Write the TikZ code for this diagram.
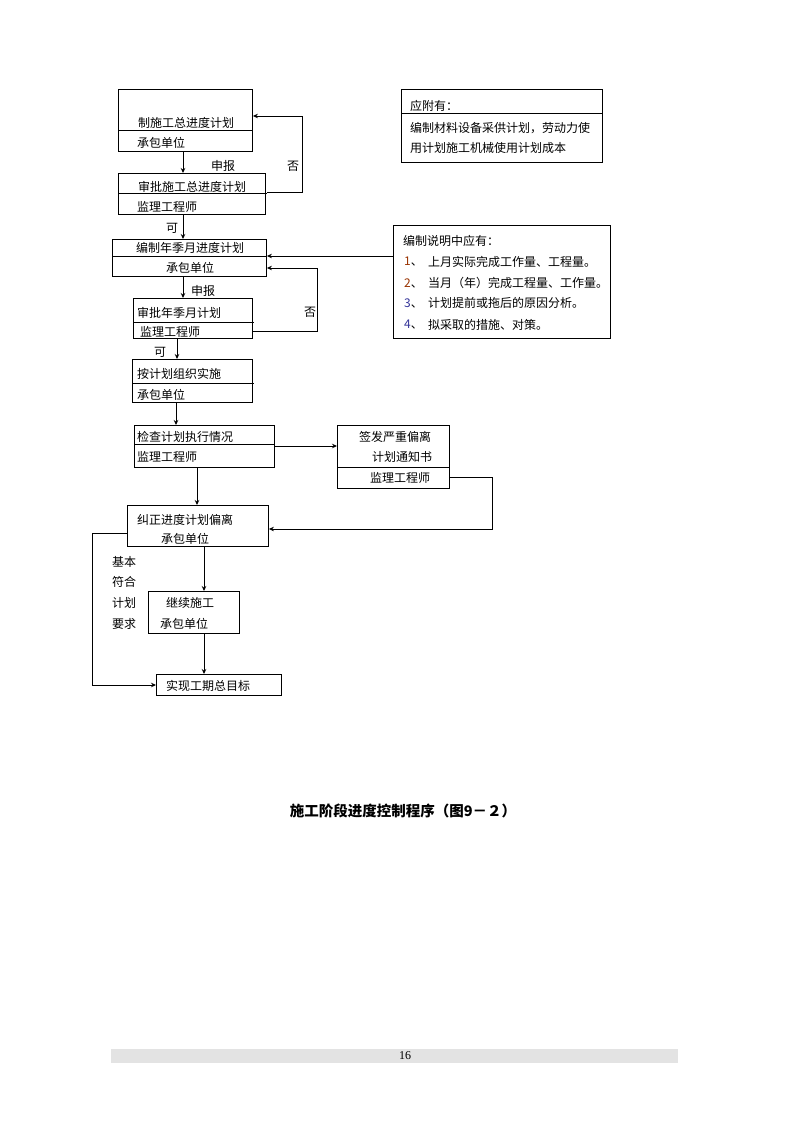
\documentclass[tikz,border=0pt]{standalone}
\usepackage{fontspec}
\setmainfont{Noto Sans CJK SC}
\newfontfamily\serifnum{Liberation Serif}
\usetikzlibrary{arrows.meta,calc}
\definecolor{numA}{HTML}{993300}
\definecolor{numB}{HTML}{333399}
\definecolor{barGray}{HTML}{E3E3E3}
\tikzset{
  box/.style={draw, line width=0.9pt, rectangle, inner sep=0pt, anchor=north west},
  divline/.style={line width=0.9pt},
  conn/.style={line width=0.9pt},
  arr/.style={line width=0.9pt, -{Stealth[length=5pt,width=4.5pt]}},
  txt/.style={inner sep=0pt, font=\fontsize{12}{14}\selectfont},
  lbl/.style={inner sep=0pt, font=\fontsize{12}{14}\selectfont},
  ttl/.style={inner sep=0pt, font=\fontsize{14.5}{17}\selectfont\bfseries},
}
\begin{document}
\begin{tikzpicture}[x=1pt,y=-1pt]
\useasboundingbox (0,0) rectangle (794,1123);
\fill[white] (0,0) rectangle (794,1123);

% ---------- boxes ----------
\node[box, minimum width=134pt, minimum height=62pt] (b1) at (118,89) {};
\node[box, minimum width=147pt, minimum height=41pt] (b2) at (118,173) {};
\node[box, minimum width=154pt, minimum height=37pt] (b3) at (112,239) {};
\node[box, minimum width=119pt, minimum height=40pt] (b4) at (133,298) {};
\node[box, minimum width=120pt, minimum height=43pt] (b5) at (132,359) {};
\node[box, minimum width=140pt, minimum height=42pt] (b6) at (134,425) {};
\node[box, minimum width=112pt, minimum height=63pt] (b7) at (337,425) {};
\node[box, minimum width=141pt, minimum height=41pt] (b8) at (127,505) {};
\node[box, minimum width=91pt, minimum height=42pt] (b9) at (148,591) {};
\node[box, minimum width=125pt, minimum height=21pt] (b10) at (156,674) {};
\node[box, minimum width=201pt, minimum height=73pt] (nA) at (401,89) {};
\node[box, minimum width=217pt, minimum height=113pt] (nB) at (393,225) {};

% ---------- dividers ----------
\coordinate (d1) at (253,130);
\coordinate (d2) at (267,193);
\coordinate (d3) at (266,256);
\coordinate (d4) at (254,322);
\coordinate (d5) at (254,383);
\coordinate (d6) at (274,444);
\coordinate (d7) at (449,467);
\coordinate (dA) at (602,113);
\draw[divline] (b1.west |- d1) -- (d1);
\draw[divline] (b2.west |- d2) -- (d2);
\draw[divline] (b3.west |- d3) -- (d3);
\draw[divline] (b4.west |- d4) -- (d4);
\draw[divline] (b5.west |- d5) -- (d5);
\draw[divline] (b6.west |- d6) -- (d6);
\draw[divline] (b7.west |- d7) -- (d7);
\draw[divline] (nA.west |- dA) -- (dA);

% ---------- box texts ----------
\node[txt] (t1a) at (186,123) {制施工总进度计划};
\node[txt, anchor=west] (t1b) at (137,143) {承包单位};
\node[txt, anchor=west] (t2a) at (138,187) {审批施工总进度计划};
\node[txt, anchor=west] (t2b) at (137,207) {监理工程师};
\node[txt] (t3a) at (190,248) {编制年季月进度计划};
\node[txt] (t3b) at (190,268) {承包单位};
\node[txt, anchor=west] (t4a) at (137,313) {审批年季月计划};
\node[txt, anchor=west] (t4b) at (140,332) {监理工程师};
\node[txt, anchor=west] (t5a) at (137,374) {按计划组织实施};
\node[txt, anchor=west] (t5b) at (137,395) {承包单位};
\node[txt, anchor=west] (t6a) at (137,437) {检查计划执行情况};
\node[txt, anchor=west] (t6b) at (137,457) {监理工程师};
\node[txt] (t7a) at (395,437) {签发严重偏离};
\node[txt] (t7b) at (402,457) {计划通知书};
\node[txt] (t7c) at (400,478) {监理工程师};
\node[txt] (t8a) at (185,520) {纠正进度计划偏离};
\node[txt] (t8b) at (185,539) {承包单位};
\node[txt] (t9a) at (190,603) {继续施工};
\node[txt] (t9b) at (184,624) {承包单位};
\node[txt] (t10) at (208,686) {实现工期总目标};

\node[txt, anchor=west] (tA0) at (410,106) {应附有：};
\node[txt, anchor=west] (tA1) at (410,128) {编制材料设备采供计划，劳动力使};
\node[txt, anchor=west] (tA2) at (410,148) {用计划施工机械使用计划成本};

\node[txt, anchor=west] (tB0) at (403,241) {编制说明中应有：};
\node[txt, anchor=west] (nB1) at (404,262) {\textcolor{numA}{1}、};
\node[txt, anchor=west] (nB2) at (404,283) {\textcolor{numA}{2}、};
\node[txt, anchor=west] (nB3) at (404,303) {\textcolor{numB}{3}、};
\node[txt, anchor=west] (nB4) at (404,325) {\textcolor{numB}{4}、};
\node[txt, anchor=west] (tB1) at (428,262) {上月实际完成工作量、工程量。};
\node[txt, anchor=west] (tB2) at (428,283) {当月（年）完成工程量、工作量。};
\node[txt, anchor=west] (tB3) at (428,303) {计划提前或拖后的原因分析。};
\node[txt, anchor=west] (tB4) at (428,325) {拟采取的措施、对策。};

% ---------- side labels ----------
\node[lbl] (l1) at (223,166) {申报};
\node[lbl] (l2) at (293,166) {否};
\node[lbl] (l3) at (172,228) {可};
\node[lbl] (l4) at (203,291) {申报};
\node[lbl] (l5) at (310,312) {否};
\node[lbl] (l6) at (160,352) {可};
\node[lbl] (l7) at (124,562) {基本};
\node[lbl] (l8) at (124,582) {符合};
\node[lbl] (l9) at (124,603) {计划};
\node[lbl] (l10) at (124,624) {要求};

% ---------- connectors ----------
\coordinate (c1) at (183,0);
\draw[arr] (b1.south -| c1) -- (b2.north -| c1);
\coordinate (r2) at (302,192);
\draw[arr] (d2 |- r2) -- (r2) |- (b1.east |- 0,116);
\draw[arr] (b2.south -| c1) -- (b3.north -| c1);
\draw[arr] (nB.west |- d3) -- (b3.east |- d3);
\coordinate (r4) at (317,331);
\draw[arr] (b4.east |- r4) -- (r4) |- (b3.east |- 0,268);
\draw[arr] (b3.south -| c1) -- (b4.north -| c1);
\coordinate (c4) at (177,0);
\draw[arr] (b4.south -| c4) -- (b5.north -| c4);
\coordinate (c5) at (176,0);
\draw[arr] (b5.south -| c5) -- (b6.north -| c5);
\coordinate (c6) at (0,446);
\draw[arr] (b6.east |- c6) -- (b7.west |- c6);
\coordinate (r7) at (492,477);
\draw[arr] (b7.east |- r7) -- (r7) |- (b8.east |- 0,529);
\coordinate (c8) at (197,0);
\draw[arr] (b6.south -| c8) -- (b8.north -| c8);
\coordinate (r8) at (92,533);
\draw[arr] (b8.west |- r8) -- (r8) |- (b10.west |- 0,685);
\coordinate (c9) at (204,0);
\draw[arr] (b8.south -| c9) -- (b9.north -| c9);
\draw[arr] (b9.south -| c9) -- (b10.north -| c9);

% ---------- title ----------
\node[ttl] (title) at (403,811) {施工阶段进度控制程序（图9－２）};

% ---------- footer ----------
\fill[barGray] (111,1049) rectangle (678,1063);
\node[inner sep=0pt, font=\serifnum\fontsize{12}{14}\selectfont] (page) at (405,1056) {16};
\end{tikzpicture}
\end{document}
